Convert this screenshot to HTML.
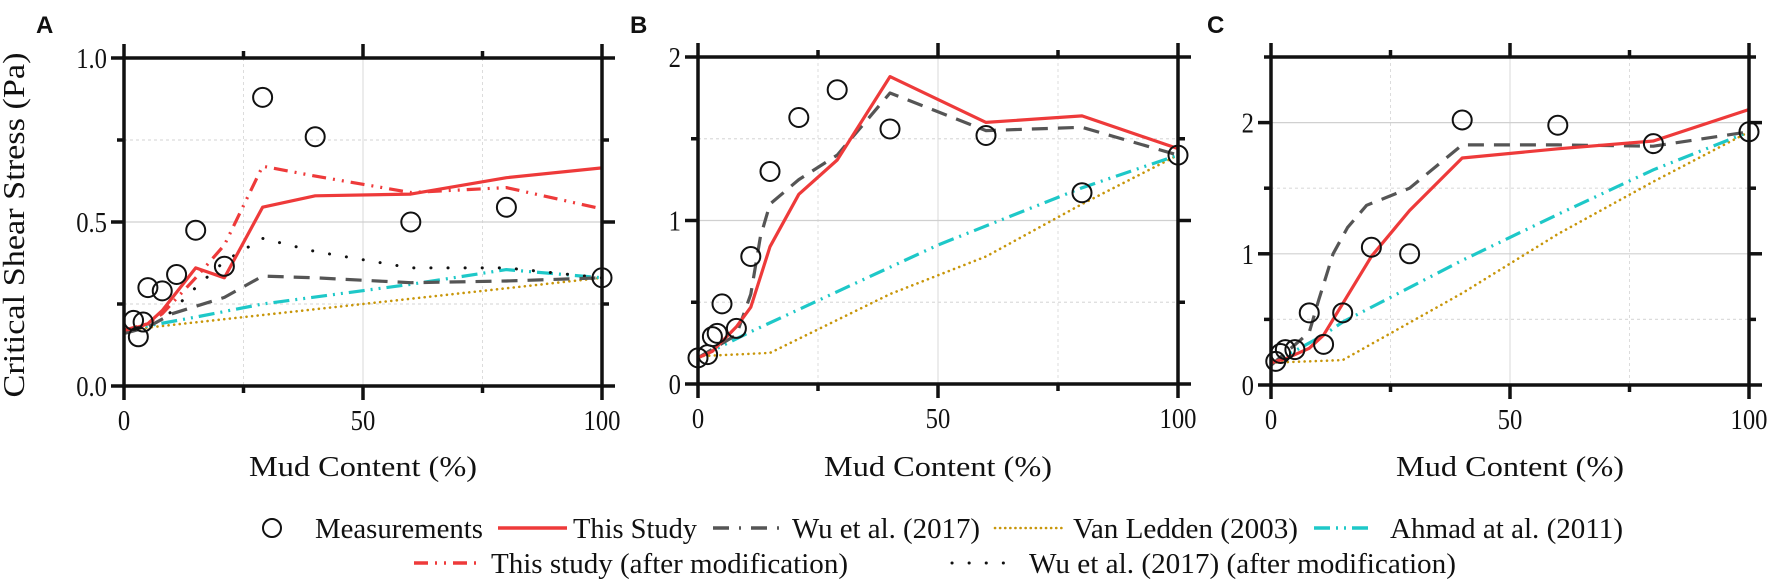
<!DOCTYPE html>
<html><head><meta charset="utf-8"><title>Critical shear stress vs mud content</title>
<style>
html,body{margin:0;padding:0;background:#fff;}
svg{display:block;}
text{font-family:"Liberation Serif",serif;fill:#111;}
.lbl{font-family:"Liberation Sans",sans-serif;font-weight:bold;}
</style></head>
<body>
<svg id="chart" width="1772" height="581" viewBox="0 0 1772 581" xmlns="http://www.w3.org/2000/svg">
<g id="panels"></g>
<g id="legend">
  <g>
    <circle cx="272" cy="528" r="9" fill="none" stroke="#111" stroke-width="2"/>
    <text x="315" y="538" font-size="28" textLength="168" lengthAdjust="spacingAndGlyphs">Measurements</text>
  </g>
  <g>
    <line x1="498" y1="528" x2="567" y2="528" stroke="#ee3a3a" stroke-width="3.5"/>
    <text x="573" y="538" font-size="28" textLength="124" lengthAdjust="spacingAndGlyphs">This Study</text>
  </g>
  <g>
    <line x1="713" y1="528" x2="781" y2="528" stroke="#555" stroke-width="3.5" stroke-dasharray="16 10 2 10"/>
    <text x="792" y="538" font-size="28" textLength="188" lengthAdjust="spacingAndGlyphs">Wu et al. (2017)</text>
  </g>
  <g>
    <line x1="995" y1="528" x2="1063" y2="528" stroke="#c8960a" stroke-width="2.6" stroke-dasharray="0.1 5" stroke-linecap="round"/>
    <text x="1073" y="538" font-size="28" textLength="225" lengthAdjust="spacingAndGlyphs">Van Ledden (2003)</text>
  </g>
  <g>
    <line x1="1314" y1="528" x2="1374" y2="528" stroke="#1ec8c8" stroke-width="3.5" stroke-dasharray="16 6 2 6 2 6"/>
    <text x="1390" y="538" font-size="28" textLength="233" lengthAdjust="spacingAndGlyphs">Ahmad at al. (2011)</text>
  </g>
  <g>
    <line x1="414" y1="563" x2="478" y2="563" stroke="#ee3a3a" stroke-width="3.5" stroke-dasharray="14 7 2 7 2 7"/>
    <text x="491" y="573" font-size="28" textLength="357" lengthAdjust="spacingAndGlyphs">This study (after modification)</text>
  </g>
  <g>
    <line x1="952" y1="563" x2="1013" y2="563" stroke="#111" stroke-width="3" stroke-dasharray="0.1 17" stroke-linecap="round"/>
    <text x="1029" y="573" font-size="28" textLength="427" lengthAdjust="spacingAndGlyphs">Wu et al. (2017) (after modification)</text>
  </g>
</g>
</svg>
<script>
// ---------- Panel A ----------
const aMeasX = [2, 3, 4, 5, 8, 11, 15, 21, 29, 40, 60, 80, 100];
const aMeasY = [0.2, 0.15, 0.195, 0.3, 0.29, 0.34, 0.475, 0.365, 0.88, 0.76, 0.5, 0.545, 0.33];
const aStudyX = [0, 2, 5, 8, 15, 21, 29, 40, 60, 80, 100];
const aStudyY = [0.17, 0.175, 0.19, 0.23, 0.36, 0.33, 0.545, 0.58, 0.585, 0.635, 0.665];
const aModX = [0, 5, 8, 15, 21, 29, 40, 60, 80, 100];
const aModY = [0.17, 0.19, 0.22, 0.33, 0.43, 0.67, 0.64, 0.59, 0.605, 0.54];
const aWuX = [0, 5, 10, 21, 29, 40, 60, 80, 100];
const aWuY = [0.16, 0.18, 0.22, 0.27, 0.335, 0.33, 0.315, 0.32, 0.33];
const aWuModX = [0, 8, 15, 21, 29, 40, 60, 80, 100];
const aWuModY = [0.16, 0.2, 0.3, 0.38, 0.45, 0.41, 0.36, 0.36, 0.33];
const aVanX = [0, 100];
const aVanY = [0.17, 0.33];
const aAhmX = [0, 15, 29, 60, 80, 100];
const aAhmY = [0.17, 0.21, 0.25, 0.31, 0.355, 0.33];
const aYTicks = [0, 0.5, 1.0];
const aYTickLabels = ["0.0", "0.5", "1.0"];
// ---------- Panel B ----------
const bMeasX = [0, 2, 3, 4, 5, 8, 11, 15, 21, 29, 40, 60, 80, 100];
const bMeasY = [0.16, 0.18, 0.29, 0.31, 0.49, 0.34, 0.78, 1.3, 1.63, 1.8, 1.56, 1.52, 1.17, 1.4];
const bStudyX = [0, 3, 8, 11, 15, 21, 29, 40, 60, 80, 100];
const bStudyY = [0.16, 0.2, 0.35, 0.47, 0.84, 1.16, 1.37, 1.88, 1.6, 1.64, 1.44];
const bWuX = [0, 8, 11, 13, 15, 21, 29, 40, 60, 80, 100];
const bWuY = [0.16, 0.3, 0.55, 0.9, 1.1, 1.25, 1.4, 1.78, 1.55, 1.57, 1.4];
const bVanX = [0, 15, 40, 60, 80, 100];
const bVanY = [0.17, 0.19, 0.55, 0.78, 1.1, 1.4];
const bAhmX = [0, 11, 50, 80, 100];
const bAhmY = [0.16, 0.32, 0.85, 1.2, 1.4];
const bYTicks = [0, 1, 2];
const bYTickLabels = ["0", "1", "2"];
// ---------- Panel C ----------
const cMeasX = [1, 2, 3, 5, 8, 11, 15, 21, 29, 40, 60, 80, 100];
const cMeasY = [0.18, 0.24, 0.27, 0.27, 0.55, 0.31, 0.55, 1.05, 1.0, 2.02, 1.98, 1.84, 1.93];
const cStudyX = [0, 3, 8, 11, 21, 29, 40, 60, 80, 100];
const cStudyY = [0.17, 0.2, 0.28, 0.38, 0.98, 1.33, 1.73, 1.8, 1.86, 2.1];
const cWuX = [0, 8, 10, 13, 16, 20, 29, 40, 60, 80, 100];
const cWuY = [0.15, 0.4, 0.65, 1.0, 1.2, 1.37, 1.5, 1.83, 1.83, 1.82, 1.93];
const cVanX = [0, 15, 40, 60, 80, 100];
const cVanY = [0.17, 0.19, 0.7, 1.15, 1.55, 1.93];
const cAhmX = [0, 11, 15, 40, 60, 80, 100];
const cAhmY = [0.16, 0.38, 0.48, 0.95, 1.3, 1.64, 1.93];
const cYTicks = [0, 1, 2];
const cYTickLabels = ["0", "1", "2"];
const xTicks = [0, 50, 100];
const xTickLabels = ["0", "50", "100"];

const NS = "http://www.w3.org/2000/svg";
function mk(tag, attrs, parent) {
  const e = document.createElementNS(NS, tag);
  for (const k in attrs) e.setAttribute(k, attrs[k]);
  parent.appendChild(e);
  return e;
}
const STY = {
  study: {stroke: "#ee3a3a", w: 3.2, dash: ""},
  mod: {stroke: "#ee3a3a", w: 3.2, dash: "14 7 2 7 2 7"},
  wu: {stroke: "#555", w: 3.2, dash: "16 10"},
  wumod: {stroke: "#111", w: 3, dash: "0.1 17", cap: "round"},
  van: {stroke: "#c8960a", w: 2.6, dash: "0.1 5.5", cap: "round"},
  ahm: {stroke: "#1ec8c8", w: 3.2, dash: "16 6 2 6 2 6"}
};

function panel(cfg) {
  const root = document.getElementById("panels");
  const g = mk("g", {}, root);
  
  
  const X = v => cfg.x0 + (cfg.x1 - cfg.x0) * v / 100;
  const Y = v => cfg.y0 - (cfg.y0 - cfg.yTop) * v / cfg.yMax;
  const grid = mk("g", {}, g);
  
  
  [25, 50, 75].forEach(v => {
    const l = mk("line", {x1: X(v), x2: X(v), y1: cfg.yTop, y2: cfg.y0, stroke: v === 50 ? "#d8d8d8" : "#dcdcdc", "stroke-width": 1, "stroke-dasharray": v === 50 ? "" : "3 3"}, grid);
    
    
  });
  cfg.yGrid.forEach((v, i) => {
    const l = mk("line", {x1: cfg.x0, x2: cfg.x1, y1: Y(v), y2: Y(v), stroke: cfg.yGridMajor[i] ? "#d0d0d0" : "#dcdcdc", "stroke-width": 1.2, "stroke-dasharray": cfg.yGridMajor[i] ? "" : "3 3"}, grid);
    
    
  });
  function series(xs, ys, st, name) {
    const pts = xs.map((x, i) => X(x).toFixed(1) + "," + Y(ys[i]).toFixed(1)).join(" ");
    const p = mk("polyline", {points: pts, fill: "none", stroke: st.stroke, "stroke-width": st.w, "stroke-dasharray": st.dash, "stroke-linecap": st.cap || "butt", "stroke-linejoin": "round"}, g);
    
    
  }
  series(cfg.van[0], cfg.van[1], STY.van, 'van-ledden-line');
  series(cfg.ahm[0], cfg.ahm[1], STY.ahm, 'ahmad-line');
  if (cfg.wumod) series(cfg.wumod[0], cfg.wumod[1], STY.wumod, 'wu-modified-line');
  series(cfg.wu[0], cfg.wu[1], STY.wu, 'wu-line');
  if (cfg.mod) series(cfg.mod[0], cfg.mod[1], STY.mod, 'this-study-modified-line');
  series(cfg.study[0], cfg.study[1], STY.study, 'this-study-line');
  cfg.meas[0].forEach((x, i) => {
    const c = mk("circle", {cx: X(x), cy: Y(cfg.meas[1][i]), r: 9.5, fill: "none", stroke: "#111", "stroke-width": 2}, g);
    
    
  });
  const ax = mk("g", {stroke: "#111", "stroke-width": 3.5, fill: "none"}, g);
  
  
  mk("rect", {x: cfg.x0, y: cfg.yTop, width: cfg.x1 - cfg.x0, height: cfg.y0 - cfg.yTop}, ax);
  [0, 25, 50, 75, 100].forEach(v => {
    const L = (v % 50 === 0) ? 14 : 7;
    mk("line", {x1: X(v), x2: X(v), y1: cfg.y0, y2: cfg.y0 + L}, ax);
    mk("line", {x1: X(v), x2: X(v), y1: cfg.yTop, y2: cfg.yTop - L}, ax);
  });
  cfg.yTickAll.forEach((v, i) => {
    const L = cfg.yTickMajor[i] ? 13 : 7;
    mk("line", {x1: cfg.x0, x2: cfg.x0 - L, y1: Y(v), y2: Y(v)}, ax);
    mk("line", {x1: cfg.x1, x2: cfg.x1 + L, y1: Y(v), y2: Y(v)}, ax);
  });
  xTicks.forEach((v, i) => {
    const t = mk("text", {x: X(v), y: cfg.y0 + 44, "font-size": 28, "text-anchor": "middle", transform: "translate(" + X(v) + " 0) scale(0.88 1) translate(" + (-X(v)) + " 0)"}, g);
    t.textContent = xTickLabels[i];
    
    
  });
  cfg.yTicks.forEach((v, i) => {
    const xr = cfg.x0 - 17;
    const t = mk("text", {x: xr, y: Y(v) + 10, "font-size": 28, "text-anchor": "end", transform: "translate(" + xr + " 0) scale(0.88 1) translate(" + (-xr) + " 0)"}, g);
    t.textContent = cfg.yTickLabels[i];
    
    
  });
  const xt = mk("text", {x: (cfg.x0 + cfg.x1) / 2, y: 476, "font-size": 28, "text-anchor": "middle", textLength: 228, lengthAdjust: "spacingAndGlyphs"}, g);
  xt.textContent = "Mud Content (%)";
  
  
  const pl = mk("text", {x: cfg.lx, y: 33, "font-size": 24, class: "lbl"}, g);
  pl.textContent = cfg.id.toUpperCase();
  
  
}

panel({id: "a", x0: 124, x1: 602, y0: 386, yTop: 58, yMax: 1.0, lx: 36,
  yGrid: [0.25, 0.5, 0.75], yGridMajor: [false, true, false],
  yTickAll: [0, 0.25, 0.5, 0.75, 1.0], yTickMajor: [true, false, true, false, true],
  yTicks: aYTicks, yTickLabels: aYTickLabels,
  meas: [aMeasX, aMeasY], study: [aStudyX, aStudyY], mod: [aModX, aModY],
  wu: [aWuX, aWuY], wumod: [aWuModX, aWuModY], van: [aVanX, aVanY], ahm: [aAhmX, aAhmY]});
panel({id: "b", x0: 698, x1: 1178, y0: 384, yTop: 57, yMax: 2.0, lx: 630,
  yGrid: [0.5, 1, 1.5], yGridMajor: [false, true, false],
  yTickAll: [0, 0.5, 1, 1.5, 2], yTickMajor: [true, false, true, false, true],
  yTicks: bYTicks, yTickLabels: bYTickLabels,
  meas: [bMeasX, bMeasY], study: [bStudyX, bStudyY],
  wu: [bWuX, bWuY], van: [bVanX, bVanY], ahm: [bAhmX, bAhmY]});
panel({id: "c", x0: 1271, x1: 1749, y0: 385, yTop: 57, yMax: 2.5, lx: 1207,
  yGrid: [0.5, 1, 1.5, 2], yGridMajor: [false, true, false, true],
  yTickAll: [0, 0.5, 1, 1.5, 2, 2.5], yTickMajor: [true, false, true, false, true, false],
  yTicks: cYTicks, yTickLabels: cYTickLabels,
  meas: [cMeasX, cMeasY], study: [cStudyX, cStudyY],
  wu: [cWuX, cWuY], van: [cVanX, cVanY], ahm: [cAhmX, cAhmY]});

const yt = mk("text", {x: 0, y: 0, "font-size": 31, "text-anchor": "middle", textLength: 345, lengthAdjust: "spacingAndGlyphs", transform: "translate(24 225) rotate(-90)"}, document.getElementById("panels"));
yt.textContent = "Critical Shear Stress (Pa)";


</script>
</body></html>
